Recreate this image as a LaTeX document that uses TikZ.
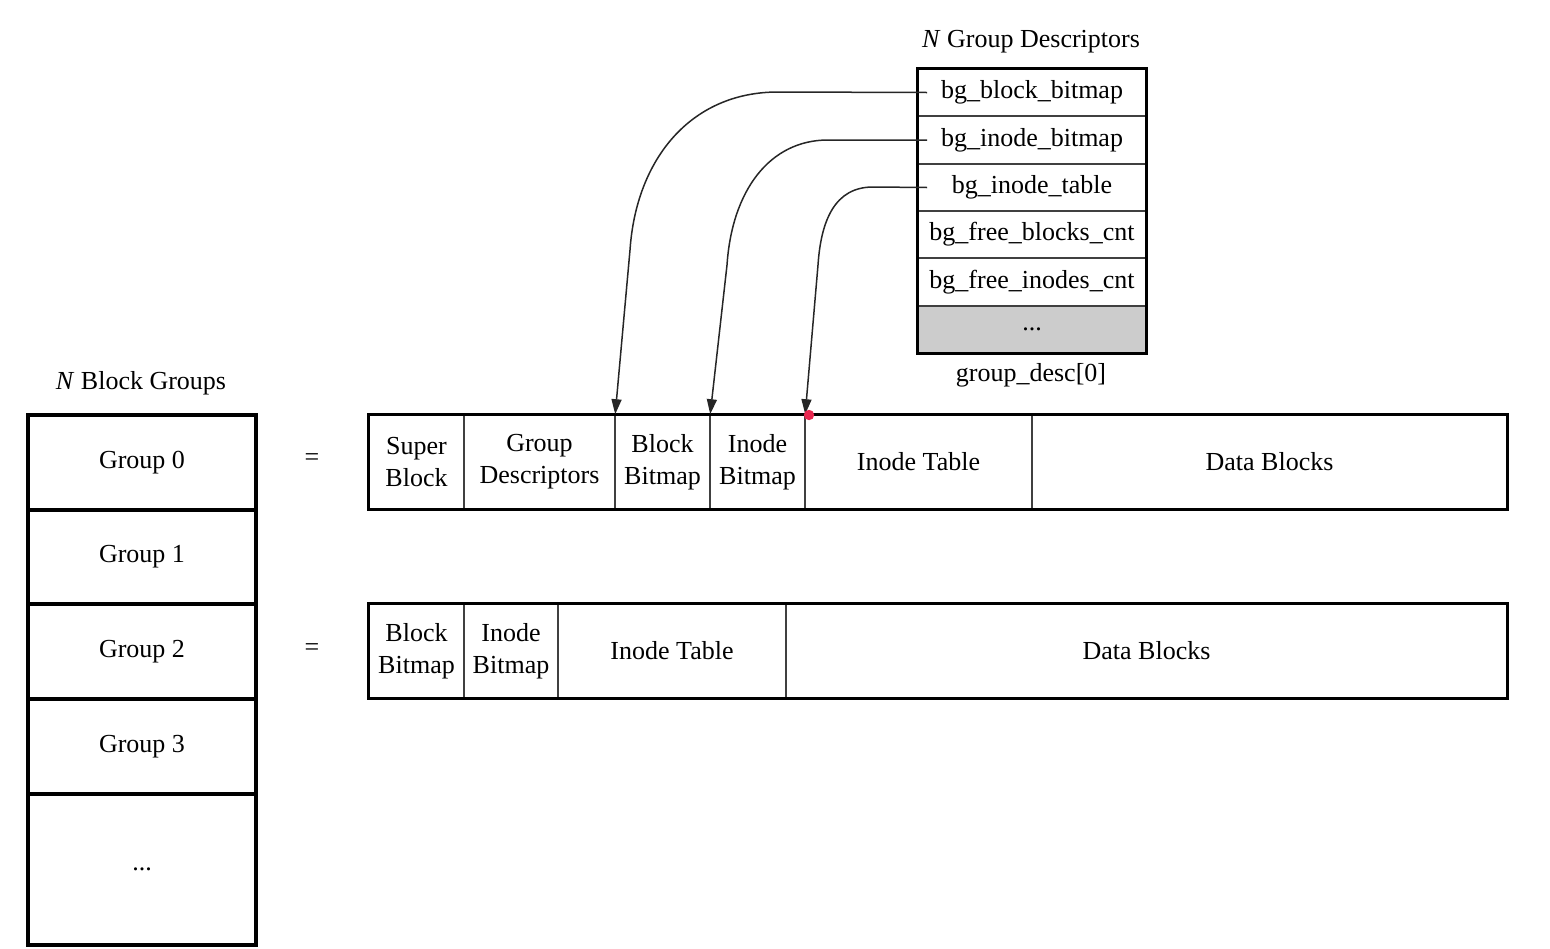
\documentclass[tikz,border=0pt]{standalone}
\usepackage{fontspec}
\setmainfont{Liberation Serif}
\usetikzlibrary{fit,arrows.meta}
\definecolor{pointer}{RGB}{232,40,80}
\tikzset{
  txt/.style={font=\fontsize{13}{16}\selectfont, text=black, align=center},
  cell/.style={draw=black!75, line width=0.8pt, inner sep=0pt},
  bigcell/.style={draw=black, line width=1.7pt, inner sep=0pt},
  frame/.style={draw=black, line width=1.6pt},
  conn/.style={draw=black!85, line width=0.75pt, -{Triangle[length=7.5pt,width=5pt]}},
  lbl/.style={label={[txt]center:#1}},
}
\begin{document}
\begin{tikzpicture}[x=0.5pt,y=-0.5pt]
\useasboundingbox (0,0) rectangle (1550,948);

% ---- left column: N block groups
\node[txt] (ttlbg) at (141,383) {\textit{N} Block Groups};
\node[bigcell, fit={(28,415) (256,510)}, lbl={Group 0}] (g0) {};
\node[bigcell, fit={(28,510) (256,604)}, lbl={Group 1}] (g1) {};
\node[bigcell, fit={(28,604) (256,699)}, lbl={Group 2}] (g2) {};
\node[bigcell, fit={(28,699) (256,794)}, lbl={Group 3}] (g3) {};
\node[bigcell, fit={(28,794) (256,945)}, lbl={...}] (gx) {};

\node[txt] (eq0) at (312,460) {=};
\node[txt] (eq2) at (312,650) {=};

% ---- group 0 layout
\node[cell, fit={(369,415) (464,509)}, lbl={Super\\Block}] (sb) {};
\node[cell, fit={(464,415) (615,509)}, lbl={Group\\Descriptors}] (gdc) {};
\node[cell, fit={(615,415) (710,509)}, lbl={Block\\Bitmap}] (bb) {};
\node[cell, fit={(710,415) (805,509)}, lbl={Inode\\Bitmap}] (ib) {};
\node[cell, fit={(805,415) (1032,509)}, lbl={Inode Table}] (it) {};
\node[cell, fit={(1032,415) (1507,509)}, lbl={Data Blocks}] (db) {};
\draw[frame] (sb.north west) rectangle (db.south east);

% ---- group 2 layout
\node[cell, fit={(369,604) (464,698)}, lbl={Block\\Bitmap}] (bb2) {};
\node[cell, fit={(464,604) (558,698)}, lbl={Inode\\Bitmap}] (ib2) {};
\node[cell, fit={(558,604) (786,698)}, lbl={Inode Table}] (it2) {};
\node[cell, fit={(786,604) (1507,698)}, lbl={Data Blocks}] (db2) {};
\draw[frame] (bb2.north west) rectangle (db2.south east);

% ---- group descriptor table
\node[txt] (ttlgd) at (1031,42) {\textit{N} Group Descriptors};
\node[cell, fit={(918,69) (1146,116)}, lbl={bg\_block\_bitmap}] (r1) {};
\node[cell, fit={(918,116) (1146,164)}, lbl={bg\_inode\_bitmap}] (r2) {};
\node[cell, fit={(918,164) (1146,211)}, lbl={bg\_inode\_table}] (r3) {};
\node[cell, fit={(918,211) (1146,258)}, lbl={bg\_free\_blocks\_cnt}] (r4) {};
\node[cell, fit={(918,258) (1146,306)}, lbl={bg\_free\_inodes\_cnt}] (r5) {};
\node[cell, fill=gray!40, fit={(918,306) (1146,353)}, lbl={...}] (r6) {};
\draw[frame] (r1.north west) rectangle (r6.south east);
\node[txt] (gdname) at (1031,375) {group\_desc[0]};

% ---- connectors
\draw[conn] ([xshift=5pt]r1.west) -- (778,92)
  .. controls (690,92) and (636,160) .. (630,250)
  -- ([xshift=0.5pt]bb.north west);
\draw[conn] ([xshift=5pt]r2.west) -- (828,140)
  .. controls (770,140) and (732,190) .. (727,265)
  -- ([xshift=0.5pt]ib.north west);
\draw[conn] ([xshift=5pt]r3.west) -- (873,187)
  .. controls (835,187) and (821,220) .. (818,265)
  -- ([xshift=0.5pt]it.north west);

% pointer dot
\fill[pointer] (809,415) circle (2.6pt);
\end{tikzpicture}
\end{document}
